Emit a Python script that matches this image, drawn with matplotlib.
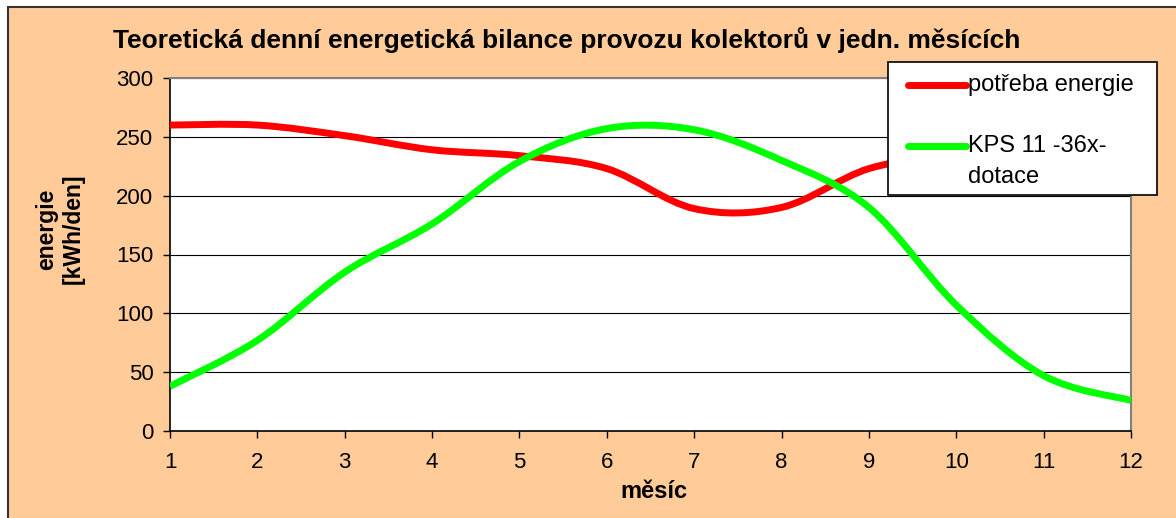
import numpy as np
import matplotlib.pyplot as plt
from matplotlib.path import Path
from matplotlib.patches import PathPatch, Rectangle
from matplotlib.lines import Line2D

plt.rcParams['font.family'] = ['Liberation Sans', 'DejaVu Sans']

months = [1, 2, 3, 4, 5, 6, 7, 8, 9, 10, 11, 12]
potreba = [260, 260, 251, 239, 234, 223, 189, 190, 223, 235, 245, 250]
kps = [38, 77, 135, 176, 229, 257, 256, 230, 190, 107, 47, 26]

title = 'Teoretická denní energetická bilance provozu kolektorů v jedn. měsících'
labels = ['potřeba energie', 'KPS 11 -36x-\ndotace']
colors = ['#FF0000', '#00FF00']

W, H = 1176, 518


def smooth_path(x, y):
    # Excel-like smoothed line: Catmull-Rom segments as cubic Bezier
    x = np.asarray(x, float)
    y = np.asarray(y, float)
    n = len(x)
    verts = [(x[0], y[0])]
    codes = [Path.MOVETO]
    for i in range(n - 1):
        p0 = i - 1 if i > 0 else i
        p3 = i + 2 if i + 2 < n else i + 1
        c1 = (x[i] + (x[i + 1] - x[p0]) / 6, y[i] + (y[i + 1] - y[p0]) / 6)
        c2 = (x[i + 1] - (x[p3] - x[i]) / 6, y[i + 1] - (y[p3] - y[i]) / 6)
        verts += [c1, c2, (x[i + 1], y[i + 1])]
        codes += [Path.CURVE4] * 3
    return Path(verts, codes)


def fx(px):
    return px / W


def fy(py):
    return 1 - py / H


fig = plt.figure(figsize=(W / 100, H / 100), dpi=100)
fig.patch.set_facecolor('white')
fig.add_artist(Rectangle((fx(8), -0.05), 1.1, fy(7) + 0.05, transform=fig.transFigure,
                         facecolor='#FFCC99', edgecolor='#333333', linewidth=1.5, zorder=-10))

ax = fig.add_axes([fx(170), fy(431), fx(1131) - fx(170), fy(78) - fy(431)])
ax.set_facecolor('white')
ax.set_xlim(1, 12)
ax.set_ylim(0, 300)

for yv, col in zip([potreba, kps], colors):
    ax.add_patch(PathPatch(smooth_path(months, yv), facecolor='none', edgecolor=col,
                           linewidth=5, capstyle='butt', zorder=3))

ax.set_yticks(range(0, 301, 50))
ax.set_xticks(months)
ax.yaxis.grid(True, color='black', linewidth=0.8)
ax.set_axisbelow(True)
ax.tick_params(direction='out', length=5, width=1, labelsize=16, colors='black')
ax.tick_params(axis='y', pad=7)
ax.tick_params(axis='x', pad=10)
for s in ['left', 'bottom']:
    ax.spines[s].set_color('black')
    ax.spines[s].set_linewidth(1.2)
for s in ['top', 'right']:
    ax.spines[s].set_color('#808080')
    ax.spines[s].set_linewidth(1.5)

fig.text(fx(654), fy(492), 'měsíc', fontsize=17, fontweight='bold', ha='center', va='center')
fig.text(fx(60), fy(229), 'energie\n[kWh/den]', fontsize=16.5, fontweight='bold',
         rotation=90, ha='center', va='center', multialignment='center', linespacing=1.25)
fig.text(fx(567), fy(40), title, fontsize=19, fontweight='bold', ha='center', va='center')

# legend box drawn over the plot
fig.add_artist(Rectangle((fx(888), fy(195)), fx(1157) - fx(888), fy(62) - fy(195),
                         transform=fig.transFigure, facecolor='white', edgecolor='black',
                         linewidth=1.2, zorder=5))
for ly, lab, col in zip([85, 146], labels, colors):
    fig.add_artist(Line2D([fx(908), fx(966)], [fy(ly), fy(ly)], transform=fig.transFigure,
                          color=col, linewidth=5, solid_capstyle='round', zorder=6))
    fig.text(fx(968), fy(ly), lab.split('\n')[0], fontsize=17, va='center', ha='left', zorder=6)
fig.text(fx(968), fy(177), labels[1].split('\n')[1], fontsize=17, va='center', ha='left', zorder=6)

fig.savefig('out.png', dpi=100)
